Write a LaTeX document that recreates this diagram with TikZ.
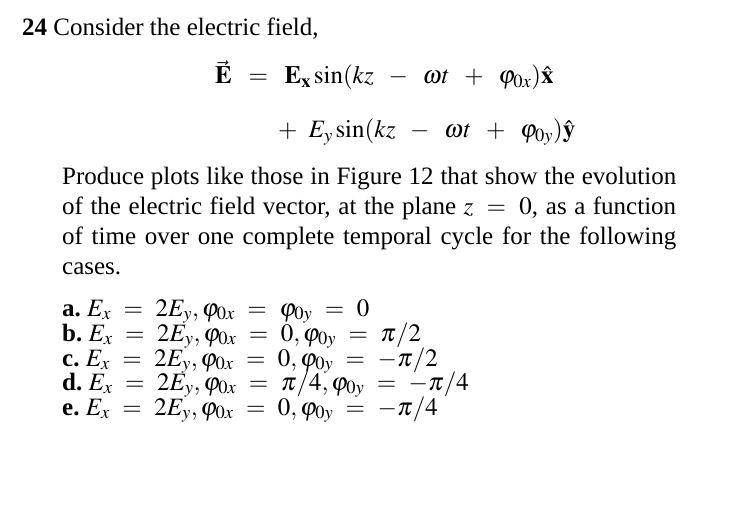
\documentclass[tikz,border=0pt]{standalone}
\usepackage{mathptmx}
\usepackage{fontspec}
\setmainfont{Liberation Serif}
\newcommand{\wsp}{\mskip 8mu}
\newcommand{\eqs}{\mskip 5mu}
\begin{document}
\begin{tikzpicture}[x=1pt,y=1pt,
  txt/.style={anchor=base west,inner sep=0pt,font=\fontsize{25}{30}\selectfont}]
\useasboundingbox (0,0) rectangle (743,-518);
\node[txt] (t0) at (22,-36) {\textbf{24}\ Consider the electric field,};
\node[txt] (e1) at (215,-84) {$\vec{\mathbf{E}}\wsp=\wsp\mathbf{E}_{\mathbf{x}}\sin(kz\wsp-\wsp\omega t\wsp+\wsp\varphi_{0x})\hat{\mathbf{x}}$};
\node[txt] (e2) at (278,-138) {$+\wsp E_y\sin(kz\wsp-\wsp\omega t\wsp+\wsp\varphi_{0y})\hat{\mathbf{y}}$};
\node[txt,text width=614pt,align=justify] (p) at (62,-185) {Produce plots like those in Figure 12 that show the evolution of the electric field vector, at the plane $z\eqs=\eqs0$, as a function of time over one complete temporal cycle for the following cases.};
\node[txt] (a) at (62,-316) {\textbf{a.}\ $E_x\eqs=\eqs2E_y, \varphi_{0x}\eqs=\eqs\varphi_{0y}\eqs=\eqs0$};
\node[txt] (b) at (62,-341) {\textbf{b.}\ $E_x\eqs=\eqs2E_y, \varphi_{0x}\eqs=\eqs0, \varphi_{0y}\eqs=\eqs\pi/2$};
\node[txt] (c) at (62,-366) {\textbf{c.}\ $E_x\eqs=\eqs2E_y, \varphi_{0x}\eqs=\eqs0, \varphi_{0y}\eqs=\eqs-\pi/2$};
\node[txt] (d) at (62,-390) {\textbf{d.}\ $E_x\eqs=\eqs2E_y, \varphi_{0x}\eqs=\eqs\pi/4, \varphi_{0y}\eqs=\eqs-\pi/4$};
\node[txt] (e) at (62,-415) {\textbf{e.}\ $E_x\eqs=\eqs2E_y, \varphi_{0x}\eqs=\eqs0, \varphi_{0y}\eqs=\eqs-\pi/4$};
\end{tikzpicture}
\end{document}
